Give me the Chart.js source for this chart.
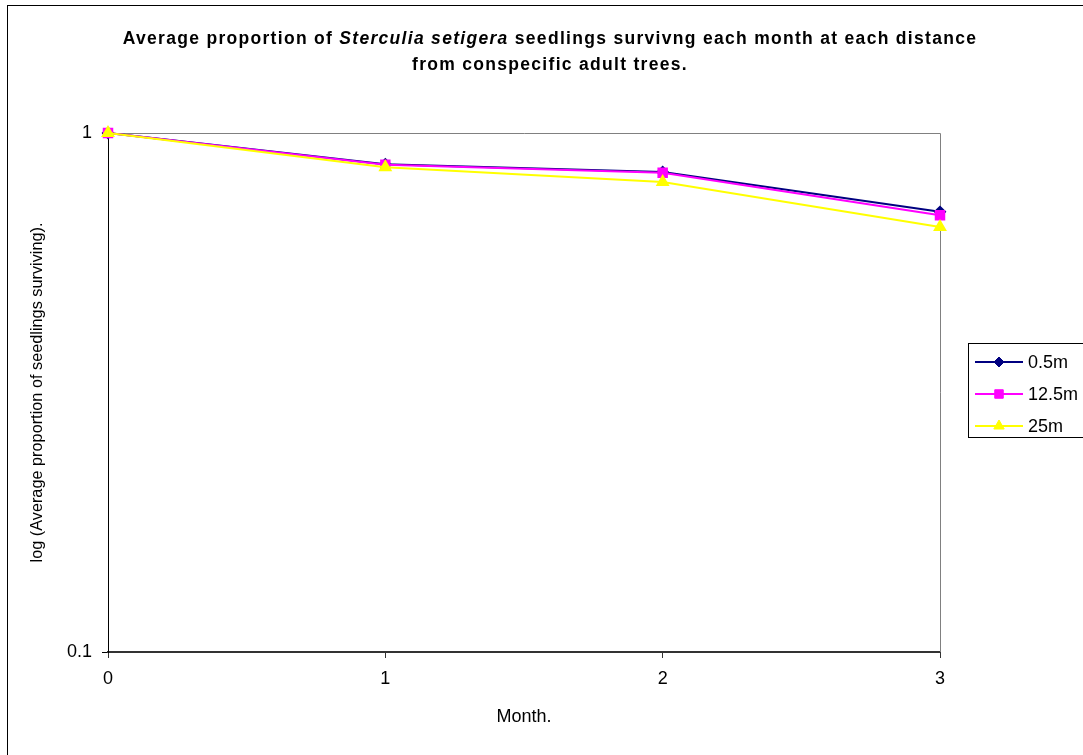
<!DOCTYPE html>
<html>
<head>
<meta charset="utf-8">
<title>Sterculia setigera seedling survival</title>
<script src="https://cdn.jsdelivr.net/npm/chart.js@4/dist/chart.umd.min.js"></script>
<style>
    html, body { margin: 0; padding: 0; background: #fff; overflow: hidden; }
    .wrap { position: relative; width: 1083px; height: 755px; }
    .frame { position: absolute; left: 7px; top: 5px; width: 1200px; height: 900px; border: 1px solid #000; }
    .chart-title {
        position: absolute; left: 0; top: 25px; width: 1100px; text-align: center;
        font-family: "Liberation Sans", Arial, sans-serif; font-weight: bold; font-size: 17.5px;
        letter-spacing: 1.3px; line-height: 26px; color: #000;
    }
    canvas { position: absolute; left: 0; top: 0; }
</style>
</head>
<body>
<div class="wrap">
    <div class="frame"></div>
    <canvas id="survivalChart" width="1083" height="755"></canvas>
    <div class="chart-title">Average proportion of <i>Sterculia setigera</i> seedlings survivng each month at each distance<br>from conspecific adult trees.</div>
</div>
<script>
// values
const months = ['0', '1', '2', '3'];
const seriesNames = ['0.5m', '12.5m', '25m'];
const near = [1, 0.871, 0.841, 0.705];
const middle = [1, 0.869, 0.838, 0.694];
const far = [1, 0.859, 0.805, 0.659];
const yTicks = [0.1, 1];
const xTitle = 'Month.';
const yTitle = 'log (Average proportion of seedlings surviving).';

const font = { family: '"Liberation Sans", Arial, sans-serif', size: 18 };
const yTitleFont = { family: '"Liberation Sans", Arial, sans-serif', size: 16.3 };

// gray frame on top and right of the plot area
const plotFrame = {
    id: 'plotFrame',
    beforeDatasetsDraw(chart) {
        const { ctx, chartArea } = chart;
        ctx.save();
        ctx.strokeStyle = '#808080';
        ctx.lineWidth = 1;
        ctx.beginPath();
        ctx.moveTo(chartArea.left, chartArea.top + 0.5);
        ctx.lineTo(chartArea.right + 0.5, chartArea.top + 0.5);
        ctx.lineTo(chartArea.right + 0.5, chartArea.bottom);
        ctx.stroke();
        ctx.restore();
    }
};

// boxed legend at the right, line + marker like the original
const boxLegend = {
    id: 'boxLegend',
    afterDraw(chart) {
        const { ctx } = chart;
        const left = 968, top = 343;
        ctx.save();
        ctx.strokeStyle = '#000';
        ctx.lineWidth = 1;
        ctx.strokeRect(left + 0.5, top + 0.5, 200, 94);
        chart.data.datasets.forEach((ds, i) => {
            const y = top + 19 + i * 32;
            ctx.strokeStyle = ds.borderColor;
            ctx.lineWidth = 2;
            ctx.beginPath();
            ctx.moveTo(975, y);
            ctx.lineTo(1023, y);
            ctx.stroke();
            ctx.fillStyle = ds.pointBackgroundColor;
            ctx.strokeStyle = ds.pointBorderColor;
            ctx.lineWidth = 1;
            Chart.helpers.drawPoint(ctx, { pointStyle: ds.pointStyle, radius: ds.pointRadius, rotation: 0, borderWidth: 1 }, 999, y);
            ctx.fillStyle = '#000';
            ctx.font = '18px "Liberation Sans", Arial, sans-serif';
            ctx.textBaseline = 'middle';
            ctx.fillText(ds.label, 1028, y + 1);
        });
        ctx.restore();
    }
};

function series(label, data, color, style, radius, order) {
    return {
        label: label,
        data: data,
        borderColor: color,
        backgroundColor: color,
        pointBackgroundColor: color,
        pointBorderColor: color,
        pointStyle: style,
        pointRadius: radius,
        pointHoverRadius: radius,
        borderWidth: 2,
        tension: 0,
        clip: false,
        order: order
    };
}

const ctx = document.getElementById('survivalChart');
const survivalChart = new Chart(ctx.getContext('2d'), {
    type: 'line',
    data: {
        labels: months,
        datasets: [
            series(seriesNames[0], near, '#000080', 'rectRot', 5, 3),
            series(seriesNames[1], middle, '#FF00FF', 'rect', 6, 2),
            series(seriesNames[2], far, '#FFFF00', 'triangle', 6, 1)
        ]
    },
    options: {
        responsive: false,
        animation: false,
        devicePixelRatio: 1,
        layout: { padding: { top: 133, right: 143, left: 0, bottom: 0 } },
        plugins: {
            legend: { display: false },
            title: { display: false },
            tooltip: { enabled: false }
        },
        scales: {
            x: {
                type: 'category',
                offset: false,
                afterFit: (scale) => { scale.height = 103; },
                ticks: { font: font, color: '#000', padding: 10, maxRotation: 0 },
                grid: { drawOnChartArea: false, drawTicks: true, tickLength: 6, color: '#333' },
                border: { color: '#333', width: 2 },
                title: { display: true, text: xTitle, font: font, color: '#000', padding: { top: 0, bottom: 27 } }
            },
            y: {
                type: 'logarithmic',
                min: 0.1,
                max: 1,
                afterBuildTicks: (scale) => { scale.ticks = yTicks.map(v => ({ value: v })); },
                afterFit: (scale) => { scale.width = 108; },
                ticks: { font: font, color: '#000', padding: 10, callback: (v) => String(v) },
                grid: { drawOnChartArea: false, drawTicks: true, tickLength: 6, color: '#000' },
                border: { color: '#000', width: 1 },
                title: { display: true, text: yTitle, font: yTitleFont, color: '#000', padding: { top: 28, bottom: 0 } }
            }
        }
    },
    plugins: [plotFrame, boxLegend]
});
</script>
</body>
</html>
